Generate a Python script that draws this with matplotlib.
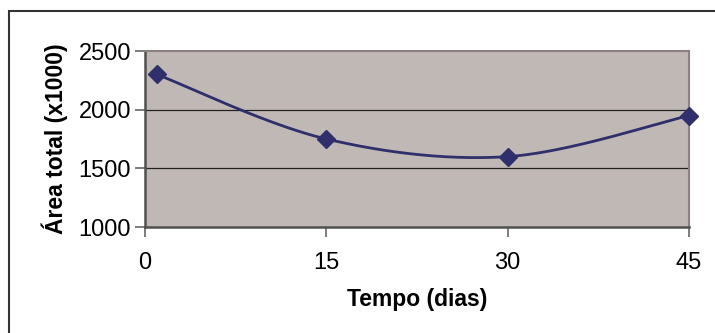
import numpy as np
import matplotlib.pyplot as plt
from matplotlib.patches import Rectangle

plt.rcParams['font.family'] = ['Liberation Sans', 'DejaVu Sans']

# dados
dias = [1, 15, 30, 45]
area_total = [2300, 1750, 1600, 1950]
x_ticks = [0, 15, 30, 45]
y_ticks = [1000, 1500, 2000, 2500]

line_color = '#2f2f6b'
plot_bg = '#c0b8b5'
tick_font_size = 17
label_font_size = 16.5


def smooth_curve(xs, ys, n=60):
    # catmull-rom / bezier, parecido com a linha suavizada do Excel
    xs = np.asarray(xs, float)
    ys = np.asarray(ys, float)
    # trabalhar em coordenadas de tela para a tensao ficar parecida
    sx = 45.0 / 544
    sy = 1500.0 / 176
    px = xs / sx
    py = ys / sy
    out_x, out_y = [], []
    for i in range(len(xs) - 1):
        p0 = (px[max(i - 1, 0)], py[max(i - 1, 0)])
        p1 = (px[i], py[i])
        p2 = (px[i + 1], py[i + 1])
        p3 = (px[min(i + 2, len(xs) - 1)], py[min(i + 2, len(xs) - 1)])
        c1 = (p1[0] + (p2[0] - p0[0]) / 6, p1[1] + (p2[1] - p0[1]) / 6)
        c2 = (p2[0] - (p3[0] - p1[0]) / 6, p2[1] - (p3[1] - p1[1]) / 6)
        t = np.linspace(0, 1, n)
        bx = (1 - t) ** 3 * p1[0] + 3 * (1 - t) ** 2 * t * c1[0] + 3 * (1 - t) * t ** 2 * c2[0] + t ** 3 * p2[0]
        by = (1 - t) ** 3 * p1[1] + 3 * (1 - t) ** 2 * t * c1[1] + 3 * (1 - t) * t ** 2 * c2[1] + t ** 3 * p2[1]
        out_x.extend(bx * sx)
        out_y.extend(by * sy)
    return np.array(out_x), np.array(out_y)


fig = plt.figure(figsize=(7.15, 3.33), dpi=100)
fig.patch.set_facecolor('white')
W, H = 715, 333

# moldura do grafico
fig.patches.append(Rectangle((9 / W, -0.1), 1.2, 1 - 11 / H + 0.1, transform=fig.transFigure,
                             fill=False, edgecolor='#333333', linewidth=1.5))

ax = fig.add_axes([145 / W, 1 - 227 / H, (689 - 145) / W, (227 - 51) / H])
ax.set_facecolor(plot_bg)

sx, sy = smooth_curve(dias, area_total)
ax.plot(sx, sy, color=line_color, linewidth=2, zorder=3)
ax.plot(dias, area_total, linestyle='none', marker='D', markersize=9,
        color=line_color, zorder=4, clip_on=False)

ax.set_xlim(0, 45)
ax.set_ylim(1000, 2500)
ax.set_xticks(x_ticks)
ax.set_yticks(y_ticks)
ax.tick_params(labelsize=tick_font_size, length=7, width=1.2, color='#666666')
ax.tick_params(axis='x', pad=11)
ax.tick_params(axis='y', pad=3)

for y in y_ticks[1:-1]:
    ax.axhline(y, color='#222222', linewidth=0.9, zorder=1)

for s in ['top', 'right']:
    ax.spines[s].set_color('#8c8080')
    ax.spines[s].set_linewidth(1.5)
for s in ['left', 'bottom']:
    ax.spines[s].set_color('#505050')
    ax.spines[s].set_linewidth(1.8)

ax.set_xlabel('Tempo (dias)', fontsize=label_font_size, fontweight='bold', labelpad=10)
ax.set_ylabel('Área total (x1000)', fontsize=label_font_size, fontweight='bold', labelpad=8)

fig.savefig('out.png', dpi=100)
